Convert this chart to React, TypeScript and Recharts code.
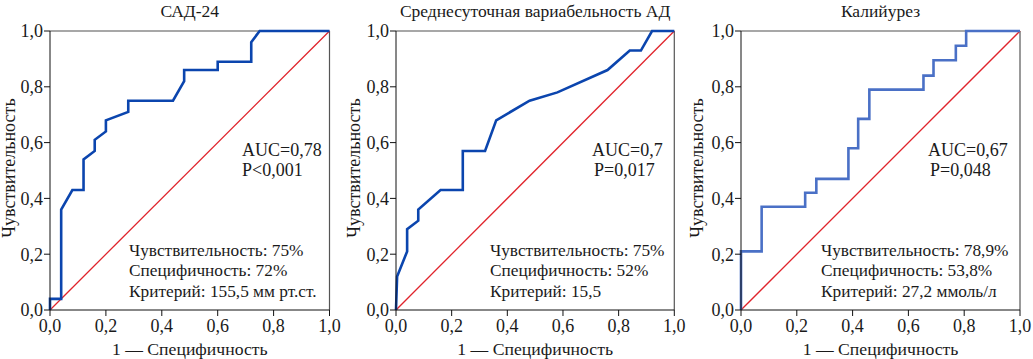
import React from 'react';
import { LineChart, Line, XAxis, YAxis, ReferenceLine } from 'recharts';

const FONT = "'Liberation Serif', 'Times New Roman', serif";

const axisTicks = [0, 0.2, 0.4, 0.6, 0.8, 1];
const diagonalFpr = [0, 1];
const diagonalTpr = [0, 1];

// САД-24
const sadFpr = [0, 0, 0.04, 0.04, 0.08, 0.12, 0.12, 0.16, 0.16, 0.2, 0.2, 0.28, 0.28, 0.44, 0.48, 0.48, 0.6, 0.6, 0.72, 0.72, 0.75, 1];
const sadTpr = [0, 0.04, 0.04, 0.36, 0.43, 0.43, 0.54, 0.57, 0.61, 0.64, 0.68, 0.71, 0.75, 0.75, 0.82, 0.86, 0.86, 0.89, 0.89, 0.96, 1, 1];

// Среднесуточная вариабельность АД
const varFpr = [0, 0.004, 0.04, 0.04, 0.08, 0.08, 0.16, 0.24, 0.24, 0.32, 0.36, 0.48, 0.58, 0.76, 0.84, 0.88, 0.92, 1];
const varTpr = [0, 0.12, 0.21, 0.29, 0.32, 0.36, 0.43, 0.43, 0.57, 0.57, 0.68, 0.75, 0.78, 0.86, 0.93, 0.93, 1, 1];

// Калийурез
const kalFpr = [0, 0, 0.074, 0.074, 0.23, 0.23, 0.27, 0.27, 0.385, 0.385, 0.42, 0.42, 0.46, 0.46, 0.654, 0.654, 0.69, 0.69, 0.77, 0.77, 0.807, 0.807, 1];
const kalTpr = [0, 0.21, 0.21, 0.37, 0.37, 0.42, 0.42, 0.47, 0.47, 0.58, 0.58, 0.685, 0.685, 0.79, 0.79, 0.84, 0.84, 0.895, 0.895, 0.947, 0.947, 1, 1];

const titles = ['САД-24', 'Среднесуточная вариабельность АД', 'Калийурез'];
const aucTexts = ['AUC=0,78', 'AUC=0,7', 'AUC=0,67'];
const pTexts = ['P<0,001', 'P=0,017', 'P=0,048'];
const sensTexts = ['Чувствительность: 75%', 'Чувствительность: 75%', 'Чувствительность: 78,9%'];
const specTexts = ['Специфичность: 72%', 'Специфичность: 52%', 'Специфичность: 53,8%'];
const critTexts = ['Критерий: 155,5 мм рт.ст.', 'Критерий: 15,5', 'Критерий: 27,2 ммоль/л'];
const xLabel = '1 — Специфичность';
const yLabel = 'Чувствительность';

const toPoints = (xs: number[], ys: number[]) => xs.map((x, i) => ({ x, y: ys[i] }));
const fmt = (v: number) => v.toFixed(1).replace('.', ',');

type Layout = {
  left: number;
  yWidth: number;
  right: number;
  color: string;
  aucLeft: number;
  pLeft: number;
  blockLeft: number;
};

const layouts: Layout[] = [
  { left: 0, yWidth: 50, right: 15.5, color: '#0b45ae', aucLeft: 242, pLeft: 242, blockLeft: 129 },
  { left: 345, yWidth: 51, right: 15.7, color: '#0b45ae', aucLeft: 592, pLeft: 594, blockLeft: 490 },
  { left: 688, yWidth: 53, right: 13, color: '#4a70c6', aucLeft: 928, pLeft: 930, blockLeft: 821 },
];

const curves = [toPoints(sadFpr, sadTpr), toPoints(varFpr, varTpr), toPoints(kalFpr, kalTpr)];
const diagonal = toPoints(diagonalFpr, diagonalTpr);

const W = 345;
const H = 359;
const TOP = 31;

const tickStyle = { fill: '#1a1a1a', fontSize: 18, fontFamily: FONT };

function Roc({ idx }: { idx: number }) {
  const l = layouts[idx];
  const plotLeft = l.left + l.yWidth;
  const plotRight = l.left + W - l.right;
  const cx = (plotLeft + plotRight) / 2;
  const text: React.CSSProperties = {
    position: 'absolute',
    whiteSpace: 'nowrap',
    fontFamily: FONT,
    color: '#1a1a1a',
  };
  return (
    <>
      <div style={{ position: 'absolute', left: l.left, top: 0 }}>
        <LineChart width={W} height={H} margin={{ top: TOP, right: l.right, left: 0, bottom: 0 }}>
          <XAxis
            type="number"
            dataKey="x"
            domain={[0, 1]}
            ticks={axisTicks}
            tickFormatter={fmt}
            height={49}
            tickSize={6}
            tickMargin={3}
            axisLine={{ stroke: '#111' }}
            tickLine={{ stroke: '#111' }}
            tick={tickStyle}
            interval={0}
          />
          <YAxis
            type="number"
            dataKey="y"
            domain={[0, 1]}
            ticks={axisTicks}
            tickFormatter={fmt}
            width={l.yWidth}
            tickSize={6}
            tickMargin={1}
            axisLine={{ stroke: '#111' }}
            tickLine={{ stroke: '#111' }}
            tick={tickStyle}
            interval={0}
          />
          <ReferenceLine y={1} stroke="#8a8a8a" strokeWidth={1.5} />
          <ReferenceLine x={1} stroke="#555" strokeWidth={1.2} />
          <Line
            data={diagonal}
            dataKey="y"
            type="linear"
            stroke="#e0242c"
            strokeWidth={1.3}
            dot={false}
            isAnimationActive={false}
          />
          <Line
            data={curves[idx]}
            dataKey="y"
            type="linear"
            stroke={l.color}
            strokeWidth={2.6}
            dot={false}
            isAnimationActive={false}
          />
        </LineChart>
      </div>
      <div style={{ ...text, left: cx, top: 0, fontSize: 17.5, lineHeight: '22px', transform: 'translateX(-50%)' }}>
        {titles[idx]}
      </div>
      <div style={{ ...text, left: cx, top: 339, fontSize: 17.7, lineHeight: '20px', transform: 'translateX(-50%)' }}>
        {xLabel}
      </div>
      <div
        style={{
          ...text,
          left: l.left + 9,
          top: 168,
          fontSize: 18,
          lineHeight: '20px',
          transform: 'translate(-50%, -50%) rotate(-90deg)',
        }}
      >
        {yLabel}
      </div>
      <div style={{ ...text, left: l.aucLeft, top: 139.5, fontSize: 18, lineHeight: '20px' }}>{aucTexts[idx]}</div>
      <div style={{ ...text, left: l.pLeft, top: 159.5, fontSize: 18, lineHeight: '20px' }}>{pTexts[idx]}</div>
      <div style={{ ...text, left: l.blockLeft, top: 240.5, fontSize: 17.3, lineHeight: '20.5px' }}>
        <div>{sensTexts[idx]}</div>
        <div>{specTexts[idx]}</div>
        <div>{critTexts[idx]}</div>
      </div>
    </>
  );
}

export default function App() {
  return (
    <div style={{ position: 'absolute', left: 0, top: 0, width: 1033, height: 359, background: '#fff', overflow: 'hidden' }}>
      <Roc idx={0} />
      <Roc idx={1} />
      <Roc idx={2} />
    </div>
  );
}
